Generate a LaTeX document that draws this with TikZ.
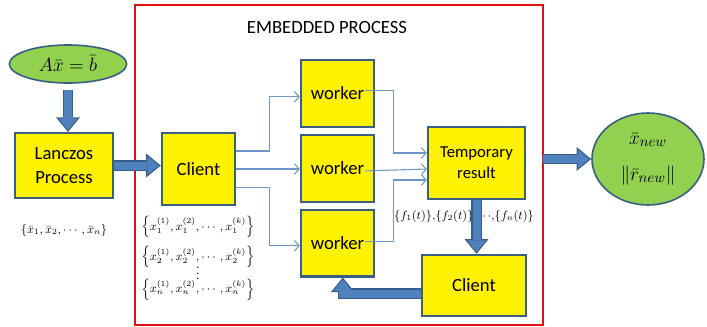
\documentclass[tikz,border=0pt]{standalone}
\usepackage{amsmath,amssymb}
\usepackage{fontspec}
\setmainfont{Carlito}
\usetikzlibrary{positioning,shapes.geometric,arrows.meta}

\definecolor{boxline}{HTML}{3A5F82}
\definecolor{leaf}{HTML}{92D050}
\definecolor{fatfill}{HTML}{4F81BD}
\definecolor{fatedge}{HTML}{385D8A}
\definecolor{linkblue}{HTML}{6F95C4}
\definecolor{framered}{HTML}{E01010}

\begin{document}
\begin{tikzpicture}[x=0.75pt,y=-0.75pt,
    box/.style = {draw=boxline, fill=yellow, line width=1.6pt, align=center, font=\fontsize{14}{18}\selectfont},
    goal/.style = {draw=boxline, fill=leaf, ellipse, line width=1.2pt, inner sep=0pt, align=center, font=\fontsize{15}{18}\selectfont},
    link/.style = {draw=linkblue, line width=0.8pt, -{Straight Barb[length=3.5pt,width=8pt]}},
    fat/.style = {draw=fatfill, line width=6pt, -{Triangle[length=8.5pt,width=14pt,line width=0pt]}, shorten >=1.5pt,
        preaction={draw=fatedge, line width=8pt, -{Triangle[length=11pt,width=18pt,line width=0pt]}, shorten >=0pt}},
    node distance={4.5pt}]
    \useasboundingbox (0,0) rectangle (707,326);

    % frame of the embedded process
    \draw[framered, line width=0.9pt] (135,5) rectangle (543,325);
    \node[font=\fontsize{14}{17}\selectfont] (0) at (327,28) {EMBEDDED PROCESS};

    \node[goal, minimum width=88pt, minimum height=28.5pt] (1) at (68,64) {$A\bar{x}=\bar{b}$};
    \node[label={[label distance=15.5pt, font=\small]below:{$\{\bar{x}_1,\bar{x}_2,\cdots,\bar{x}_n\}$}}][box, minimum width=73.5pt, minimum height=48.75pt] (2) at (64,165.5) {Lanczos\\Process};
    \node[box, minimum width=55pt, minimum height=54pt] (3) at (198.5,169) {Client};

    \node[box, minimum width=55pt, minimum height=50pt] (4) at (337.5,93.5) {worker};
    \node[box, minimum width=55pt, minimum height=50pt] (5) [below=of 4] {worker};
    \node[box, minimum width=55pt, minimum height=50pt] (6) [below=of 5] {worker};

    \node[box, minimum width=73pt, minimum height=54pt, font=\fontsize{12.5}{16}\selectfont] (7) at (476.5,163) {Temporary\\result};
    \node[box, minimum width=78pt, minimum height=46pt] (8) at (474,285.5) {Client};
    \node[goal, minimum width=84pt, minimum height=69pt, font=\fontsize{15}{27}\selectfont] (9) at (648,159) {$\bar{x}_{new}$\\$\|\bar{r}_{new}\|$};

    \node[font=\small] (11) at (198,258.5) {$\begin{array}{c}
        \left\{x_1^{(1)},x_1^{(2)},\cdots,x_1^{(k)}\right\}\\[9pt]
        \left\{x_2^{(1)},x_2^{(2)},\cdots,x_2^{(k)}\right\}\\[-6.5pt]
        \vdots\\[-3.5pt]
        \left\{x_n^{(1)},x_n^{(2)},\cdots,x_n^{(k)}\right\}
        \end{array}$};
    \node[font=\small] (12) at (464,216) {$\{f_1(t)\}{,}\{f_2(t)\}{,}\!\cdots\!{,}\{f_n(t)\}$};

    \draw[link] ([yshift=13.5pt]3.east) -- ++(33,0) |- ([yshift=-2.5pt]4.west);
    \draw[link] (3.east) -- (3.east -| 5.west);
    \draw[link] ([yshift=-14pt]3.east) -- ++(33,0) |- ([yshift=-2pt]6.west);

    \draw[link] ([xshift=-8pt,yshift=2.5pt]4.east) -- ++(29,0) |- ([yshift=7.5pt]7.west);
    \draw[link] ([xshift=-8pt,yshift=-2pt]5.east) -- ([yshift=-4.5pt]7.west);
    \draw[link] ([xshift=-8pt,yshift=1.5pt]6.east) -- ++(29,0) |- ([yshift=-12.75pt]7.west);

    \draw[fat, shorten <=5pt] (1.south) -- (1.south |- 2.north);
    \draw[fat] (2.east) -- (2.east -| 3.west);
    \draw[fat] (7.south) -- (7.south |- 8.north);
    \draw[fat] ([yshift=-6pt]8.west) -| ([xshift=4pt]6.south);
    \draw[fat] (9.west -| 543,0) -- (9.west);
\end{tikzpicture}
\end{document}
